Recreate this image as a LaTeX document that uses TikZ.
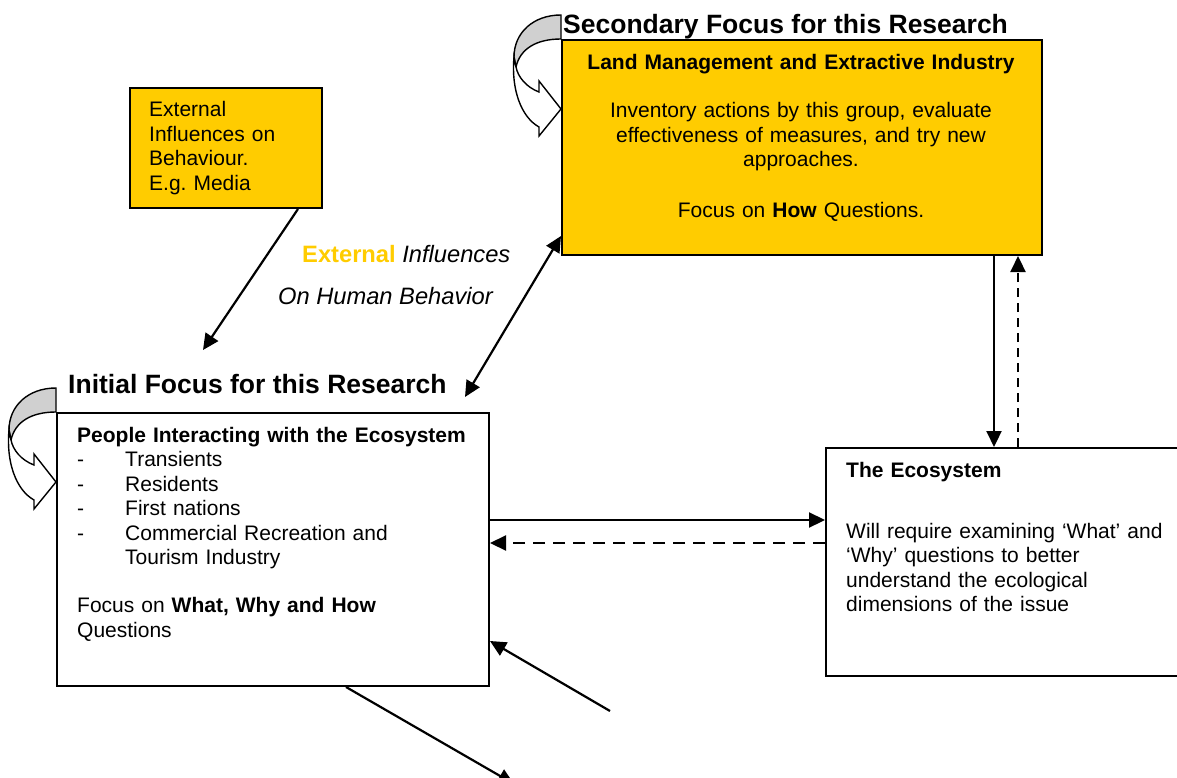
\documentclass[tikz,border=0pt]{standalone}
\usepackage{fontspec}
\setmainfont{Liberation Sans}
\usepackage{tikz}
\usetikzlibrary{arrows.meta}
\frenchspacing
\definecolor{gold}{HTML}{FFCC00}
\definecolor{ribbon}{HTML}{D0D0D0}
\tikzstyle{arrow} = [line width=2.2pt,->,>={Triangle[length=16pt,width=15pt]}]
\tikzstyle{dasharrow} = [arrow,dash pattern=on 12pt off 8pt]
\tikzstyle{box} = [draw,line width=2pt,rectangle,anchor=north west,inner sep=0pt]
\tikzstyle{txt} = [inner sep=0pt,anchor=base west,align=left,font=\fontsize{21}{24.5}\selectfont]
\tikzstyle{heading} = [inner sep=0pt,anchor=base west,font=\fontsize{26.5}{30}\selectfont\bfseries]

% curved self arrow hung on the corner of a box
\newcommand{\selfloop}[1]{%
  \begin{scope}[shift={(#1)},line width=1.4pt]
    \filldraw[fill=ribbon] (0,-24) .. controls (-28,-24) and (-47,-6) .. (-47,18) -- (-45,28) .. controls (-41,10) and (-25,0) .. (0,0) -- cycle;
    \filldraw[fill=white] (-47,18) .. controls (-50,50) and (-40,78) .. (-22,88) -- (-22,97) -- (0,70) -- (-22,42) -- (-22,53) .. controls (-35,48) and (-43,38) .. (-45,28) -- cycle;
  \end{scope}}

\begin{document}
\begin{tikzpicture}[x=1pt,y=-1pt]
\useasboundingbox (0,0) rectangle (1177,778);

% Boxes
\node[box,fill=gold,minimum width=192pt,minimum height=120pt] (media) at (129,87) {};
\node[box,fill=gold,minimum width=480pt,minimum height=215pt] (land) at (561,39) {};
\node[box,minimum width=432pt,minimum height=273pt] (people) at (56,412) {};
\node[box,minimum width=355pt,minimum height=228pt] (eco) at (825,447) {};

% Self arrows
\selfloop{land.north west}
\selfloop{people.north west}

% Headings
\node[heading] (sectitle) at (563,34) {Secondary Focus for this Research};
\node[heading] (inititle) at (68,393) {Initial Focus for this Research};

% Box texts
\node[txt,text width=170pt] (mediatxt) at (149,117) {External\\Influences on\\Behaviour.\\E.g. Media};
\node[txt,anchor=base,align=center,text width=470pt] (landtxt) at (801,70) {\textbf{Land Management and Extractive Industry}\\[23.5pt]Inventory actions by this group, evaluate\\effectiveness of measures, and try new\\approaches.\\[26.5pt]Focus on \textbf{How} Questions.};
\node[txt,text width=420pt] (peopletxt) at (77,442) {\textbf{People Interacting with the Ecosystem}\\\makebox[48pt][l]{-}Transients\\\makebox[48pt][l]{-}Residents\\\makebox[48pt][l]{-}First nations\\\makebox[48pt][l]{-}Commercial Recreation and\\\hspace*{48pt}Tourism Industry\\[23.5pt]Focus on \textbf{What, Why and How}\\Questions};
\node[txt,text width=330pt] (ecotxt) at (846,477) {\textbf{The Ecosystem}\\[36.5pt]Will require examining ‘What’ and\\‘Why’ questions to better\\understand the ecological\\dimensions of the issue};

% Label
\node[inner sep=0pt,anchor=base west,font=\fontsize{23.7}{28}\selectfont] (extlbl) at (302,262) {\textcolor{gold}{\textbf{External}} \textit{Influences}};
\node[inner sep=0pt,anchor=base east,font=\fontsize{23.7}{28}\selectfont\itshape] (humlbl) at (493,304) {On Human Behavior};

% Connectors
\coordinate (mediaend) at (203,350);
\coordinate (titleend) at (465,397);
\coordinate (lowin) at (610,711);
\coordinate (lowout) at (514,784);

\draw[arrow] ([xshift=72pt]media.south) -- (mediaend);
\draw[arrow,<->] (titleend) -- ([yshift=-88.5pt]land.west);
\draw[arrow] ([xshift=192pt]land.south) -- ([xshift=-9.5pt]eco.north);
\draw[dasharrow,dash pattern=on 9pt off 6pt] ([xshift=14.5pt]eco.north) -- ([xshift=216pt]land.south);
\draw[arrow] ([yshift=29.5pt]people.east) -- ([yshift=42pt]eco.west);
\draw[dasharrow] ([yshift=19pt]eco.west) -- ([yshift=6.5pt]people.east);
\draw[arrow] (lowin) -- ([yshift=-91.5pt]people.east);
\draw[arrow] ([xshift=73pt]people.south) -- (lowout);

\end{tikzpicture}
\end{document}
